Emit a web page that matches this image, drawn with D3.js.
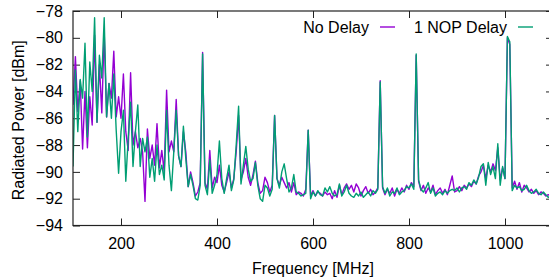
<!DOCTYPE html>
<html>
<head>
<meta charset="utf-8">
<style>
body { margin: 0; background: #fff; }
svg { font-family: "Liberation Sans", Arial, Helvetica, sans-serif; }
.tick text { font-size: 16px; fill: #000; }
.tick line { stroke: #222; }
</style>
</head>
<body>
<div id="chart"></div>
<script src="https://cdn.jsdelivr.net/npm/d3@7"></script>
<script>
// frequency grid, MHz
const freqs = d3.range(100, 1101, 5)

// radiated power, dBm (one value per 5 MHz)
const noDelay = [
  -85.0, -81.4, -85.5, -83.2, -88.3, -84.0, -88.2, -84.4, -86.5, -79.8,
  -86.3, -82.0, -85.6, -79.6, -85.9, -83.4, -84.5, -81.0, -85.9, -84.4,
  -86.0, -82.7, -87.0, -88.4, -82.6, -88.0, -87.0, -88.2, -87.5, -88.5,
  -92.2, -86.8, -89.0, -88.0, -89.5, -86.4, -89.7, -88.4, -90.0, -83.9,
  -88.5, -87.7, -88.5, -84.6, -88.8, -89.6, -87.0, -88.5, -91.1, -90.0,
  -90.8, -91.8, -91.5, -90.8, -81.1, -90.8, -91.3, -88.4, -91.2, -90.4,
  -90.8, -89.5, -91.0, -91.5, -90.8, -90.0, -91.2, -90.5, -88.5, -85.8,
  -90.6, -90.0, -89.0, -90.4, -91.0, -90.2, -89.2, -90.8, -91.6, -91.4,
  -90.4, -90.8, -91.5, -91.0, -85.8, -90.5, -91.0, -90.4, -90.8, -91.2,
  -90.8, -91.5, -90.8, -91.7, -91.5, -91.6, -91.8, -91.3, -86.9, -91.8,
  -91.4, -91.8, -91.5, -91.6, -91.8, -91.5, -91.7, -91.6, -92.0, -91.4,
  -91.9, -91.0, -91.7, -91.2, -90.9, -91.3, -91.0, -91.5, -90.9, -91.2,
  -91.8, -91.4, -91.1, -91.6, -91.3, -91.7, -91.5, -91.2, -83.2, -91.2,
  -91.7, -91.3, -91.6, -91.2, -91.8, -91.3, -91.6, -91.2, -91.5, -91.0,
  -91.3, -90.8, -91.1, -81.3, -90.7, -91.4, -91.0, -91.6, -91.2, -91.5,
  -91.0, -91.7, -91.4, -91.2, -91.6, -91.3, -91.7, -91.0, -90.3, -91.5,
  -91.4, -91.1, -91.4, -91.0, -91.2, -90.9, -91.1, -90.7, -90.9, -90.3,
  -90.0, -89.5, -90.5, -89.5, -90.0, -89.4, -89.9, -88.2, -90.6, -89.7,
  -90.5, -80.0, -80.5, -91.2, -90.7, -91.3, -90.8, -91.5, -91.0, -91.2,
  -91.5, -91.3, -91.6, -91.4, -91.7, -91.5, -91.6, -91.8, -91.7, -91.8,
  -91.9
]
const oneNop = [
  -89.6, -82.4, -87.0, -83.1, -84.5, -80.4, -87.4, -81.8, -84.0, -78.5,
  -86.3, -81.3, -83.0, -78.5, -85.9, -83.4, -86.0, -82.7, -86.9, -90.1,
  -87.0, -85.4, -90.7, -87.5, -84.8, -89.6, -87.0, -85.0, -89.6, -87.5,
  -88.5, -87.4, -90.4, -89.0, -90.7, -88.0, -90.2, -89.5, -90.6, -85.4,
  -89.5, -91.4, -88.5, -85.4, -88.8, -89.6, -86.6, -89.0, -91.1, -90.2,
  -91.0, -92.0, -92.1, -91.0, -81.2, -91.0, -91.7, -89.1, -91.6, -91.0,
  -90.2, -87.7, -90.5, -91.6, -90.5, -89.5, -91.4, -90.6, -88.0, -85.1,
  -90.9, -89.5, -88.1, -89.8, -90.7, -90.5, -89.3, -91.0, -92.0, -92.2,
  -91.0, -91.2, -91.8, -91.3, -85.8, -90.5, -91.2, -90.0, -89.4, -90.5,
  -91.5, -91.2, -90.2, -91.5, -91.6, -91.8, -91.7, -91.6, -86.9, -92.0,
  -91.5, -91.8, -91.4, -91.7, -91.8, -91.2, -91.5, -91.1, -91.6, -91.8,
  -91.7, -90.9, -91.8, -91.5, -91.0, -91.6, -91.8, -91.9, -91.6, -91.8,
  -91.5, -91.9, -91.7, -91.5, -91.8, -91.4, -91.6, -91.3, -83.3, -91.1,
  -91.6, -91.2, -91.8, -91.5, -91.6, -91.2, -91.7, -91.5, -91.4, -91.1,
  -91.2, -90.9, -91.3, -81.2, -90.6, -91.3, -91.5, -91.2, -90.8, -91.6,
  -91.2, -91.8, -91.6, -91.5, -91.7, -91.4, -91.6, -91.4, -91.3, -91.4,
  -91.2, -91.5, -91.2, -91.1, -91.3, -90.8, -91.0, -90.6, -90.9, -90.4,
  -89.6, -89.4, -91.0, -89.3, -90.2, -89.6, -90.5, -87.9, -91.0, -89.6,
  -90.5, -79.9, -80.3, -91.4, -91.0, -91.2, -91.1, -91.4, -91.3, -91.0,
  -91.4, -91.6, -91.5, -91.3, -91.6, -91.7, -91.5, -91.7, -91.9, -91.8,
  -91.8
]

const series = [
  {name: "No Delay", color: "#9400d3", values: noDelay},
  {name: "1 NOP Delay", color: "#009e73", values: oneNop}
]
const xTicks = [200, 400, 600, 800, 1000]
const yTicks = [-94, -92, -90, -88, -86, -84, -82, -80, -78]

const width = 549, height = 280
const margin = {top: 11, right: -4, bottom: 54.5, left: 73}

const x = d3.scaleLinear()
    .domain([100, 1100])
    .range([margin.left, width - margin.right])
const y = d3.scaleLinear()
    .domain([-94, -78])
    .range([height - margin.bottom, margin.top])

const svg = d3.select("#chart").append("svg")
    .attr("width", width)
    .attr("height", height)

svg.append("clipPath").attr("id", "plot")
  .append("rect")
    .attr("x", x(100)).attr("y", y(-78))
    .attr("width", x(1100) - x(100)).attr("height", y(-94) - y(-78))

// ticks point inward, mirrored on top and right
svg.append("g")
    .attr("transform", `translate(0,${y(-94)})`)
    .call(d3.axisBottom(x).tickValues(xTicks).tickSize(-7).tickPadding(12).tickFormat(d3.format("d")))
    .call(g => g.select(".domain").remove())
svg.append("g")
    .attr("transform", `translate(0,${y(-78)})`)
    .call(d3.axisTop(x).tickValues(xTicks).tickSize(-7).tickFormat(""))
    .call(g => g.select(".domain").remove())
svg.append("g")
    .attr("transform", `translate(${x(100)},0)`)
    .call(d3.axisLeft(y).tickValues(yTicks).tickSize(-7).tickPadding(10))
    .call(g => g.select(".domain").remove())
svg.append("g")
    .attr("transform", `translate(${x(1100)},0)`)
    .call(d3.axisRight(y).tickValues(yTicks).tickSize(-7).tickFormat(""))
    .call(g => g.select(".domain").remove())

const line = d3.line()
    .x((d, i) => x(freqs[i]))
    .y(d => y(d))

svg.append("g")
    .attr("clip-path", "url(#plot)")
  .selectAll("path")
  .data(series)
  .join("path")
    .attr("fill", "none")
    .attr("stroke", d => d.color)
    .attr("stroke-width", 1.4)
    .attr("stroke-linejoin", "round")
    .attr("d", d => line(d.values))

svg.append("rect")
    .attr("x", x(100)).attr("y", y(-78))
    .attr("width", x(1100) - x(100)).attr("height", y(-94) - y(-78))
    .attr("fill", "none")
    .attr("stroke", "#222")
    .attr("stroke-width", 1.2)

// legend
const legendEnds = [369, 507]
series.forEach((s, i) => {
  svg.append("text")
      .attr("x", legendEnds[i])
      .attr("y", 33)
      .attr("text-anchor", "end")
      .attr("font-size", 16)
      .text(s.name)
  svg.append("line")
      .attr("x1", legendEnds[i] + 11).attr("x2", legendEnds[i] + 26)
      .attr("y1", 27).attr("y2", 27)
      .attr("stroke", s.color)
      .attr("stroke-width", 1.4)
})

svg.append("text")
    .attr("transform", `translate(24,${(y(-78) + y(-94)) / 2 + 2}) rotate(-90)`)
    .attr("text-anchor", "middle")
    .attr("font-size", 16)
    .text("Radiated Power [dBm]")

svg.append("text")
    .attr("x", (x(100) + x(1100)) / 2)
    .attr("y", 274)
    .attr("text-anchor", "middle")
    .attr("font-size", 16)
    .text("Frequency [MHz]")
</script>
</body>
</html>
